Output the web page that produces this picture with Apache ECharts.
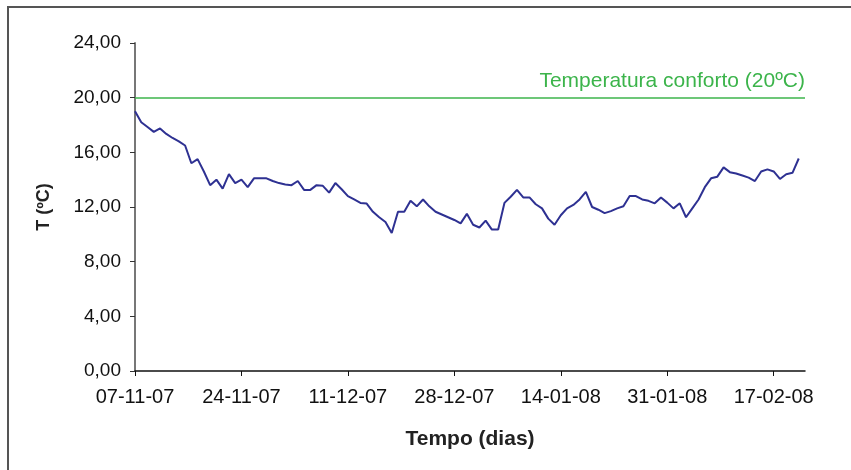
<!DOCTYPE html>
<html>
<head>
<meta charset="utf-8">
<script src="https://cdn.jsdelivr.net/npm/echarts@6/dist/echarts.min.js"></script>
<style>
html, body { margin: 0; padding: 0; background: #fff; }
#chart { width: 851px; height: 470px; }
</style>
</head>
<body>
<div id="chart"></div>
<script>
// temperatura media diaria (ºC), de 07-11-07 a 21-02-08
var temperatura = [
    19.0, 18.2, 17.85, 17.5, 17.75, 17.35, 17.05, 16.8, 16.5, 15.2,
    15.5, 14.6, 13.6, 14.0, 13.35, 14.4, 13.75, 14.0, 13.45, 14.1,
    14.1, 14.1, 13.9, 13.75, 13.65, 13.6, 13.9, 13.25, 13.25, 13.6,
    13.55, 13.05, 13.75, 13.3, 12.8, 12.55, 12.3, 12.25, 11.65, 11.25,
    10.9, 10.1, 11.65, 11.65, 12.45, 12.05, 12.55, 12.05, 11.65, 11.45,
    11.25, 11.05, 10.8, 11.5, 10.7, 10.5, 11.0, 10.35, 10.35, 12.3,
    12.75, 13.25, 12.7, 12.7, 12.2, 11.9, 11.15, 10.7, 11.4, 11.9,
    12.15, 12.55, 13.1, 12.0, 11.8, 11.55, 11.7, 11.9, 12.05, 12.8,
    12.8, 12.55, 12.45, 12.27, 12.7, 12.32, 11.9, 12.27, 11.25, 11.9,
    12.55, 13.45, 14.1, 14.22, 14.9, 14.55, 14.45, 14.3, 14.15, 13.9,
    14.6, 14.75, 14.6, 14.05, 14.4, 14.5, 15.55
];
var conforto = 20; // temperatura conforto
var dataInicio = new Date(2007, 10, 7);
var ultimoDia = 107; // o eixo vai um dia alem do ultimo registo
var diasTicks = [0, 17, 34, 51, 68, 85, 102];

function pad(n) { return (n < 10 ? '0' : '') + n; }

function nomeDia(i) {
    var d = new Date(dataInicio.getFullYear(), dataInicio.getMonth(), dataInicio.getDate() + i);
    return pad(d.getDate()) + '-' + pad(d.getMonth() + 1) + '-' + pad(d.getFullYear() % 100);
}

var pontos = [];
for (var i = 0; i < temperatura.length; i++) {
    pontos.push([i, temperatura[i]]);
}

var fonte = 'Liberation Sans, Arial, sans-serif';
var chart = echarts.init(document.getElementById('chart'));

var option = {
    animation: false,
    backgroundColor: '#fff',
    textStyle: { fontFamily: fonte },
    graphic: [{
        type: 'rect',
        shape: { x: 8, y: 7, width: 900, height: 520 },
        style: { fill: null, stroke: '#555', lineWidth: 2 },
        silent: true
    }],
    grid: { left: 135, right: 46, top: 43, bottom: 99 },
    xAxis: {
        type: 'value',
        min: 0,
        max: ultimoDia,
        name: 'Tempo (dias)',
        nameLocation: 'middle',
        nameGap: 58,
        nameTextStyle: { fontSize: 21, fontWeight: 'bold', color: '#222', fontFamily: fonte },
        axisLine: { lineStyle: { color: '#111', width: 1.5 } },
        axisTick: { customValues: diasTicks, length: 5, lineStyle: { color: '#111' } },
        axisLabel: {
            customValues: diasTicks, margin: 16, fontSize: 20, color: '#111',
            fontFamily: fonte,
            formatter: function (v) { return nomeDia(v); }
        },
        splitLine: { show: false }
    },
    yAxis: {
        type: 'value',
        min: 0,
        max: 24,
        interval: 4,
        name: 'T (ºC)',
        nameLocation: 'middle',
        nameRotate: 90,
        nameGap: 82,
        nameTextStyle: { fontSize: 18, fontWeight: 'bold', color: '#222', fontFamily: fonte },
        axisLine: { show: true, lineStyle: { color: '#777', width: 2 } },
        axisTick: { show: true, length: 5, lineStyle: { color: '#333' } },
        axisLabel: {
            margin: 14, fontSize: 19, color: '#111', fontFamily: fonte,
            formatter: function (v) { return v.toFixed(2).replace('.', ','); }
        },
        splitLine: { show: false }
    },
    series: [{
        name: 'T',
        type: 'line',
        data: pontos,
        symbol: 'none',
        lineStyle: { color: '#2e3192', width: 2 },
        markLine: {
            silent: true,
            symbol: 'none',
            data: [{ yAxis: conforto }],
            lineStyle: { color: '#3cb44b', width: 1.5, type: 'solid' },
            label: {
                show: true,
                position: 'insideEndTop',
                formatter: 'Temperatura conforto (20ºC)',
                color: '#3cb44b',
                fontSize: 21,
                fontFamily: fonte,
                distance: [0, 6]
            }
        }
    }]
};

chart.setOption(option);
</script>
</body>
</html>
